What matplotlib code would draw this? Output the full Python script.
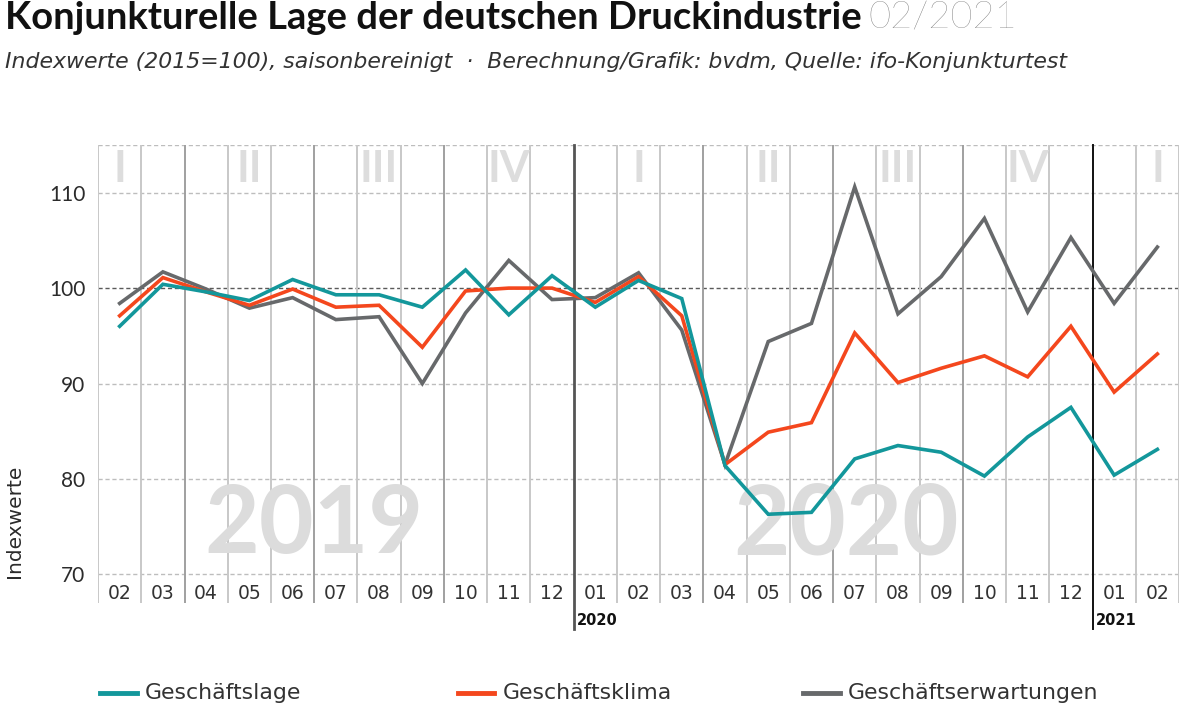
import matplotlib

matplotlib.use("Agg")

import matplotlib.pyplot as plt
from matplotlib.lines import Line2D

plt.rcParams["font.family"] = ["Lato", "DejaVu Sans"]
WIDE = ["DejaVu Sans"]

# monthly ifo index values, 02/2019 .. 02/2021
months = ["02", "03", "04", "05", "06", "07", "08", "09", "10", "11", "12",
          "01", "02", "03", "04", "05", "06", "07", "08", "09", "10", "11", "12",
          "01", "02"]
lage = [96.0, 100.4, 99.6, 98.7, 100.9, 99.3, 99.3, 98.0, 101.9, 97.2, 101.3,
        98.0, 100.8, 98.9, 81.4, 76.3, 76.5, 82.1, 83.5, 82.8, 80.3, 84.4, 87.5,
        80.4, 83.1]
klima = [97.1, 101.1, 99.6, 98.2, 99.9, 98.0, 98.2, 93.8, 99.7, 100.0, 100.0,
         98.5, 101.2, 97.1, 81.5, 84.9, 85.9, 95.3, 90.1, 91.6, 92.9, 90.7, 96.0,
         89.1, 93.1]
erwartungen = [98.4, 101.7, 99.9, 97.9, 99.0, 96.7, 97.0, 90.0, 97.4, 102.9, 98.8,
               99.0, 101.6, 95.6, 81.5, 94.4, 96.3, 110.6, 97.3, 101.2, 107.3, 97.5, 105.3,
               98.4, 104.3]
quarters = ["I", "II", "III", "IV", "I", "II", "III", "IV", "I"]
quarter_month_index = [0, 3, 6, 9, 12, 15, 18, 21, 24]
year_start_index = [11, 23]
year_labels = ["2020", "2021"]
y_ticks = [70, 80, 90, 100, 110]

series = [
    ("Geschäftslage", lage, "#13979b"),
    ("Geschäftsklima", klima, "#f4471d"),
    ("Geschäftserwartungen", erwartungen, "#67696b"),
]

fig = plt.figure(figsize=(12, 7.12), dpi=100, facecolor="white")
ax = fig.add_axes([0.0817, 0.1531, 0.9008, 0.6433])
n = len(months)
x = list(range(n))
ax.set_xlim(-0.5, n - 0.5)
ax.set_ylim(67, 115)
for side in ax.spines.values():
    side.set_visible(False)
ax.set_xticks([])
ax.set_yticks(y_ticks)
ax.set_yticklabels([str(v) for v in y_ticks], fontsize=15, color="#2b2b2b")
ax.tick_params(axis="y", length=0, pad=9)

# horizontal grid
for value in y_ticks + [115]:
    color = "#5a5a5a" if value == 100 else "#bdbdbd"
    ax.axhline(value, color=color, lw=1.0, ls=(0, (3, 2)), zorder=1)

# vertical column lines
for boundary in range(n + 1):
    pos = boundary - 0.5
    if boundary in year_start_index:
        color = "#555555" if boundary == year_start_index[0] else "#111111"
        lw = 2.0 if boundary == year_start_index[0] else 1.4
        ax.plot([pos, pos], [64.3, 115], color=color, lw=lw, clip_on=False, zorder=2)
    elif boundary in (2, 5, 8, 14, 17, 20):
        ax.axvline(pos, color="#a0a0a0", lw=1.4, zorder=1)
    else:
        ax.axvline(pos, color="#c8c8c8", lw=1.4, zorder=1)

# month labels inside the bottom band
for i, label in enumerate(months):
    ax.text(i, 68.0, label, ha="center", va="center", fontsize=13.5, color="#333333",
            family=WIDE)

for start, label in zip(year_start_index, year_labels):
    ax.text(start - 0.42, 65.2, label, ha="left", va="center", fontsize=10.5,
            fontweight="bold", color="#111111", clip_on=False, family=WIDE)

# quarter numerals and year watermarks
for idx, label in zip(quarter_month_index, quarters):
    ax.text(idx, 112.5, label, ha="center", va="center", fontsize=31,
            fontweight="bold", color="#dddddd", zorder=1.5)
ax.text(4.5, 75.1, "2019", ha="center", va="center", fontsize=68,
        fontweight="bold", color="#dcdcdc", zorder=1.5)
ax.text(16.8, 75.1, "2020", ha="center", va="center", fontsize=70,
        fontweight="bold", color="#dcdcdc", zorder=1.5)

for name, values, color in series[::-1]:
    ax.plot(x, values, color=color, lw=2.6, solid_joinstyle="miter", zorder=4)


def fit_width(text, target_px):
    """Scale a text's font size so that it spans target_px pixels."""
    fig.canvas.draw()
    width = text.get_window_extent().width
    text.set_fontsize(text.get_fontsize() * target_px / width)


# title block
title = fig.text(0.004, 1 - 18 / 712, "Konjunkturelle Lage der deutschen Druckindustrie",
                 fontsize=25, fontweight="bold", color="#111111", va="center")
fit_width(title, 855)
fig.canvas.draw()
box = title.get_window_extent().transformed(fig.transFigure.inverted())
fig.text(box.x1 + 0.006, 1 - 18 / 712, "02/2021", fontsize=title.get_fontsize(),
         fontweight="light", color="#6f6f6f", va="center")
subtitle = fig.text(0.004, 1 - 62 / 712,
                    "Indexwerte (2015=100), saisonbereinigt  ·  Berechnung/Grafik: bvdm, Quelle: ifo-Konjunkturtest",
                    fontsize=15, style="italic", color="#333333", va="center", family=WIDE)
fit_width(subtitle, 1065)
fig.text(15 / 1200, 1 - 521 / 712, "Indexwerte", rotation=90, ha="center", va="center",
         fontsize=14.5, color="#2b2b2b", family=WIDE)

# legend
legend_y = 1 - 693 / 712
for (name, values, color), (x0, x1, xt) in zip(series, [(100, 137, 145), (458, 494, 503), (803, 840, 848)]):
    fig.add_artist(Line2D([x0 / 1200, x1 / 1200], [legend_y, legend_y], color=color, lw=3.5))
    fig.text(xt / 1200, legend_y, name, fontsize=15.8, color="#333333", va="center",
             family=WIDE)

fig.savefig("out.png", dpi=100, facecolor="white")
